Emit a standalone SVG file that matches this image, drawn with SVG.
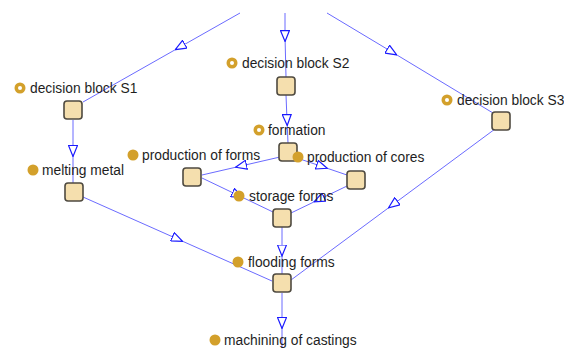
<svg xmlns="http://www.w3.org/2000/svg" width="564" height="348" viewBox="0 0 564 348">
<style>
.e{fill:none;stroke:#6b6bff;stroke-width:1;marker-mid:url(#a)}
.n{fill:#f5dfae;stroke:#4f4a40;stroke-width:1.6}
.t{font-family:"Liberation Sans",Arial,sans-serif;font-size:13.8px;fill:#1e1e1e}
.d{fill:#d3a02b}
.r{fill:#fff}
</style>
<defs>
<marker id="a" viewBox="0 0 12 10" refX="6" refY="5" markerWidth="12" markerHeight="10" markerUnits="userSpaceOnUse" orient="auto">
<path d="M0.5,0.5 L11.5,5 L0.5,9.5 Z" fill="#fff" stroke="#1a1aff" stroke-width="1.2"/>
</marker>
</defs>
<rect width="564" height="348" fill="#fff"/>
<g id="connectors">
<path class="e" d="M240,13 L180,47 L83,102"/>
<path class="e" d="M285,13 L285,36 L286,77"/>
<path class="e" d="M327,13 L392,52 L493,113"/>
<path class="e" d="M73,120 L73,151 L73,183"/>
<path class="e" d="M286,95 L287,120 L288,143"/>
<path class="e" d="M280,157 L241,166 L202,175"/>
<path class="e" d="M297,158 L322,166.5 L347,175"/>
<path class="e" d="M202,178 L237.5,195 L273,212"/>
<path class="e" d="M347,186 L319,199.5 L291,213"/>
<path class="e" d="M282,227 L282,250.5 L282,274"/>
<path class="e" d="M83,197 L177.5,239 L272,281"/>
<path class="e" d="M495,129 L393,204.5 L291,280"/>
<path class="e" d="M282,293 L282,323 L282,348"/>
</g>
<g id="s1"><rect class="n" x="64" y="101" width="18" height="18" rx="3"/><circle class="d" cx="20" cy="88" r="5.5"/><circle class="r" cx="20" cy="88" r="2"/><text class="t" x="30" y="93">decision block S1</text></g>
<g id="s2"><rect class="n" x="277" y="77" width="18" height="18" rx="3"/><circle class="d" cx="232" cy="63" r="5.5"/><circle class="r" cx="232" cy="63" r="2"/><text class="t" x="242" y="68">decision block S2</text></g>
<g id="s3"><rect class="n" x="492" y="112" width="18" height="18" rx="3"/><circle class="d" cx="447" cy="100" r="5.5"/><circle class="r" cx="447" cy="100" r="2"/><text class="t" x="457" y="105">decision block S3</text></g>
<g id="formation"><rect class="n" x="279" y="143" width="18" height="18" rx="3"/><circle class="d" cx="259" cy="130" r="5.5"/><circle class="r" cx="259" cy="130" r="2"/><text class="t" x="268" y="135">formation</text></g>
<g id="prodforms"><rect class="n" x="183" y="168" width="18" height="18" rx="3"/><circle class="d" cx="133" cy="155" r="5.5"/><text class="t" x="142" y="160">production of forms</text></g>
<g id="prodcores"><rect class="n" x="347" y="171" width="18" height="18" rx="3"/><circle class="d" cx="298" cy="157" r="5.5"/><text class="t" x="307" y="162">production of cores</text></g>
<g id="melting"><rect class="n" x="65" y="183" width="18" height="18" rx="3"/><circle class="d" cx="33" cy="170" r="5.5"/><text class="t" x="42" y="175">melting metal</text></g>
<g id="storage"><rect class="n" x="273" y="209" width="18" height="18" rx="3"/><circle class="d" cx="239" cy="196" r="5.5"/><text class="t" x="249" y="201">storage forms</text></g>
<g id="flooding"><rect class="n" x="273" y="274" width="18" height="18" rx="3"/><circle class="d" cx="238" cy="262" r="5.5"/><text class="t" x="248" y="267">flooding forms</text></g>
<g id="machining"><circle class="d" cx="215" cy="340" r="5.5"/><text class="t" x="224" y="345">machining of castings</text></g>
</svg>
